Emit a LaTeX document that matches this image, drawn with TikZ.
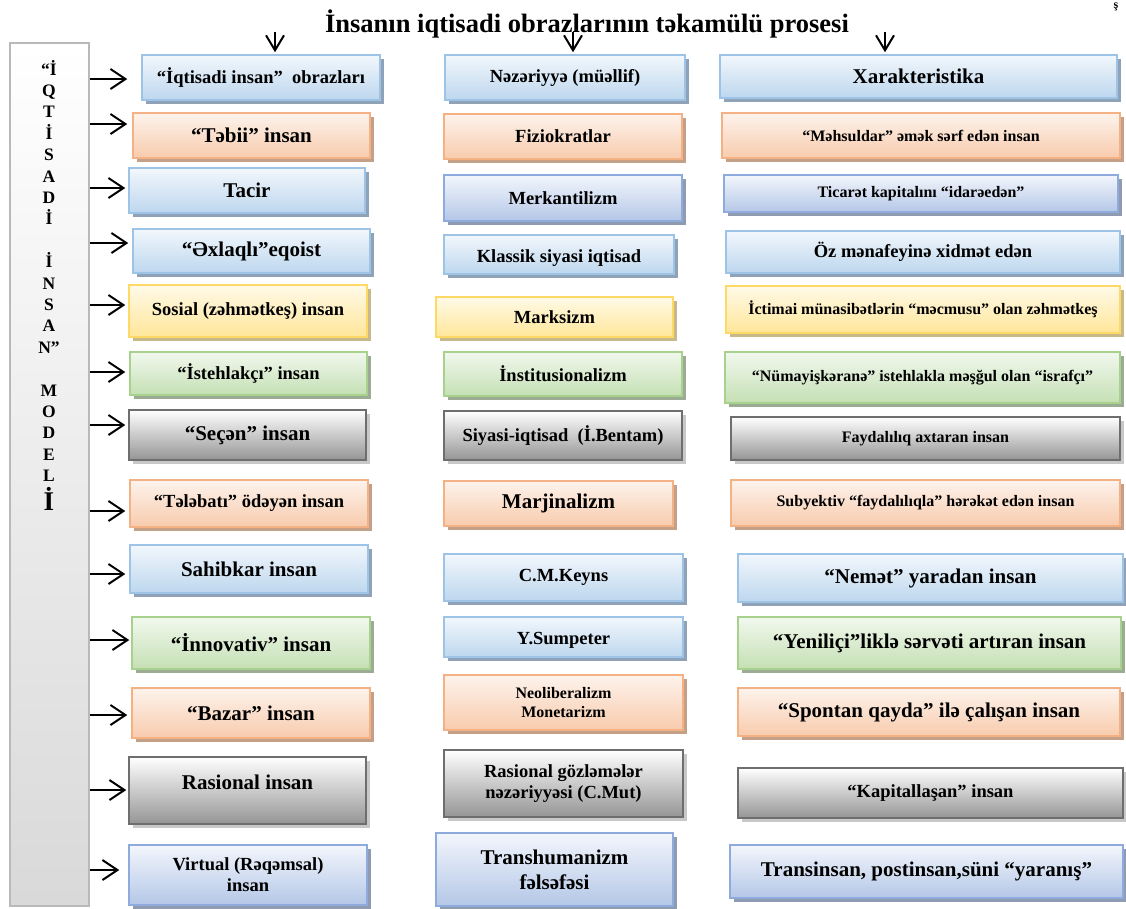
\documentclass[tikz,border=0pt]{standalone}
\usepackage{fontspec}
\setmainfont{Liberation Serif}
\usetikzlibrary{arrows.meta,shadows}

\definecolor{blB}{HTML}{9DC3E6}\definecolor{blL}{HTML}{F2F7FC}\definecolor{blD}{HTML}{BDD7EE}\definecolor{blS}{HTML}{8FA2B8}
\definecolor{orB}{HTML}{F4B183}\definecolor{orL}{HTML}{FDF3EC}\definecolor{orD}{HTML}{F8CBAD}\definecolor{orS}{HTML}{C4A088}
\definecolor{dbB}{HTML}{8FAADC}\definecolor{dbL}{HTML}{F3F6FC}\definecolor{dbD}{HTML}{B4C7E7}\definecolor{dbS}{HTML}{8F9BB0}
\definecolor{yeB}{HTML}{FFD966}\definecolor{yeL}{HTML}{FFFAE8}\definecolor{yeD}{HTML}{FFE699}\definecolor{yeS}{HTML}{C8B98A}
\definecolor{grB}{HTML}{A9D18E}\definecolor{grL}{HTML}{F1F8EE}\definecolor{grD}{HTML}{C5E0B4}\definecolor{grS}{HTML}{9CAB94}
\definecolor{gyB}{HTML}{6E6E6E}\definecolor{gyL}{HTML}{FFFFFF}\definecolor{gyD}{HTML}{959595}\definecolor{gyS}{HTML}{C8C8C8}

\tikzset{
  bx/.style={draw=#1B, line width=1.5pt, top color=#1L, bottom color=#1D, inner sep=2pt, align=center,
    drop shadow={shadow xshift=3.5pt, shadow yshift=-3.5pt, fill=#1S, opacity=1}},
  f16/.style={font=\bfseries\fontsize{16}{19}\selectfont},
  f18/.style={font=\bfseries\fontsize{18.5}{21}\selectfont},
  f21/.style={font=\bfseries\fontsize{21}{25}\selectfont},
  lar/.style={line width=2pt, -{Straight Barb[length=15pt,width=20pt]}},
  dar/.style={line width=2pt, -{Straight Barb[length=15pt,width=18pt]}, shorten >=2pt}
}

\begin{document}
\begin{tikzpicture}[x=1pt,y=-1pt]
\useasboundingbox (0,0) rectangle (1126,908);

% title and the stray letter at the corner
\node[anchor=base, font=\bfseries\fontsize{26.5}{30}\selectfont] (title) at (587,32) {İnsanın iqtisadi obrazlarının təkamülü prosesi};
\node[anchor=base, font=\bfseries\fontsize{12}{12}\selectfont, inner sep=0pt] (corner) at (1116,8) {ş};

% left bar with the stacked letters
\node[draw=gray!55, line width=1.5pt, top color=white, bottom color=gray!30, minimum width=79pt, minimum height=863pt] (bar) at (49.5,474.5) {};
\foreach \c/\k in {“İ/0, Q/1, T/2, İ/3, S/4, A/5, D/6, İ/7, İ/9, N/10, S/11, A/12, N”/13, M/15, O/16, D/17, E/18, L/19} {
    \node[anchor=base, font=\bfseries\fontsize{17.5}{20}\selectfont, inner sep=0pt] (ltr\k) at (49,75+21.4*\k) {\c};
}
\node[anchor=base, font=\bfseries\fontsize{27}{30}\selectfont, inner sep=0pt] (ltr20) at (49,510) {İ};

% first column: images of the economic man
\node[bx=bl, f18, minimum width=238pt, minimum height=45pt] (img0) at (261,77.5) {“İqtisadi insan”~ obrazları};
\node[bx=or, f21, minimum width=237pt, minimum height=45pt] (img1) at (251.5,135.5) {“Təbii” insan};
\node[bx=bl, f21, minimum width=236pt, minimum height=45pt] (img2) at (247,190.5) {Tacir};
\node[bx=bl, f21, minimum width=237pt, minimum height=44pt] (img3) at (251.5,251) {“Əxlaqlı”eqoist};
\node[bx=ye, f18, minimum width=238pt, minimum height=52pt] (img4) at (248,311) {Sosial (zəhmətkeş) insan};
\node[bx=gr, f18, minimum width=237pt, minimum height=43pt] (img5) at (248.5,373.5) {“İstehlakçı” insan};
\node[bx=gy, f21, minimum width=237pt, minimum height=50pt] (img6) at (247.5,435) {“Seçən” insan};
\node[bx=or, f18, minimum width=238pt, minimum height=47pt] (img7) at (249,503.5) {“Tələbatı” ödəyən insan};
\node[bx=bl, f21, minimum width=238pt, minimum height=48pt] (img8) at (249,569) {Sahibkar insan};
\node[bx=gr, f21, minimum width=238pt, minimum height=52pt] (img9) at (251,643) {“İnnovativ” insan};
\node[bx=or, f21, minimum width=238pt, minimum height=50pt] (img10) at (251,713) {“Bazar” insan};
\node[bx=gy, f21, minimum width=237pt, minimum height=67pt, text depth=16pt] (img11) at (247.5,790.5) {Rasional insan};
\node[bx=db, f18, minimum width=238pt, minimum height=60pt] (img12) at (248,875) {Virtual (Rəqəmsal)\\insan};

% second column: theory (author)
\node[bx=bl, f18, minimum width=240pt, minimum height=45pt] (thr0) at (565,77.5) {Nəzəriyyə (müəllif)};
\node[bx=or, f18, minimum width=238pt, minimum height=45pt] (thr1) at (563,136.5) {Fiziokratlar};
\node[bx=db, f18, minimum width=238pt, minimum height=46pt] (thr2) at (563,198) {Merkantilizm};
\node[bx=bl, f18, minimum width=230pt, minimum height=39pt, text height=19pt] (thr3) at (559,254.5) {Klassik siyasi iqtisad};
\node[bx=ye, f18, minimum width=237pt, minimum height=40pt] (thr4) at (554.5,317) {Marksizm};
\node[bx=gr, f18, minimum width=238pt, minimum height=44pt] (thr5) at (563,374) {İnstitusionalizm};
\node[bx=gy, f18, minimum width=238pt, minimum height=49pt] (thr6) at (563,435.5) {Siyasi-iqtisad~ (İ.Bentam)};
\node[bx=or, f21, minimum width=229pt, minimum height=45pt] (thr7) at (558.5,503.5) {Marjinalizm};
\node[bx=bl, f18, minimum width=239pt, minimum height=47pt] (thr8) at (563.5,577.5) {C.M.Keyns};
\node[bx=bl, f18, minimum width=239pt, minimum height=40pt, text height=18pt] (thr9) at (563.5,637) {Y.Sumpeter};
\node[bx=or, f16, minimum width=239pt, minimum height=55pt] (thr10) at (563.5,702.5) {Neoliberalizm\\Monetarizm};
\node[bx=gy, f18, minimum width=239pt, minimum height=67pt] (thr11) at (563.5,783.5) {Rasional gözləmələr\\nəzəriyyəsi (C.Mut)};
\node[bx=db, f21, minimum width=237pt, minimum height=73pt] (thr12) at (554.5,869.5) {Transhumanizm\\fəlsəfəsi};

% third column: characteristic
\node[bx=bl, f21, minimum width=397pt, minimum height=43pt] (chr0) at (918.5,76.5) {Xarakteristika};
\node[bx=or, f16, minimum width=398pt, minimum height=45pt] (chr1) at (921,135.5) {“Məhsuldar” əmək sərf edən insan};
\node[bx=db, f16, minimum width=394pt, minimum height=37pt] (chr2) at (921,193.5) {Ticarət kapitalını “idarəedən”};
\node[bx=bl, f18, minimum width=394pt, minimum height=42pt] (chr3) at (923,252) {Öz mənafeyinə xidmət edən};
\node[bx=ye, f16, minimum width=394pt, minimum height=47pt] (chr4) at (923,309.5) {İctimai münasibətlərin “məcmusu” olan zəhmətkeş};
\node[bx=gr, f16, minimum width=395pt, minimum height=51pt] (chr5) at (922.5,377.5) {“Nümayişkəranə” istehlakla məşğul olan “israfçı”};
\node[bx=gy, f16, minimum width=389pt, minimum height=43pt] (chr6) at (925.5,438.5) {Faydalılıq axtaran insan};
\node[bx=or, f16, minimum width=389pt, minimum height=46pt] (chr7) at (925.5,503) {Subyektiv “faydalılıqla” hərəkət edən insan};
\node[bx=bl, f21, minimum width=385pt, minimum height=48pt] (chr8) at (930.5,578) {“Nemət” yaradan insan};
\node[bx=gr, f21, minimum width=383pt, minimum height=52pt] (chr9) at (929.5,643) {“Yeniliçi”liklə sərvəti artıran insan};
\node[bx=or, f21, minimum width=382pt, minimum height=48pt] (chr10) at (929,712) {“Spontan qayda” ilə çalışan insan};
\node[bx=gy, f18, minimum width=385pt, minimum height=50pt] (chr11) at (930.5,793) {“Kapitallaşan” insan};
\node[bx=db, f21, minimum width=393pt, minimum height=53pt] (chr12) at (926.5,871.5) {Transinsan, postinsan,süni “yaranış”};

% arrows from the bar to the first column
\foreach \i/\y/\s in {0/79/14, 1/124/5, 2/188/3, 3/243/4, 4/305/3, 5/372/4, 6/425/3, 7/511/4, 8/574/4, 9/640/2, 10/715/4, 11/790/2, 12/870/9} {
    \draw[lar, shorten >=\s pt] (bar.east |- 0,\y) -- (img\i.west |- 0,\y);
}

% arrows down onto the column heads
\coordinate (dA) at (275,32);
\coordinate (dB) at (573,32);
\coordinate (dC) at (885,32);
\draw[dar] (dA) -- (dA |- img0.north);
\draw[dar] (dB) -- (dB |- thr0.north);
\draw[dar] (dC) -- (dC |- chr0.north);

\end{tikzpicture}
\end{document}
